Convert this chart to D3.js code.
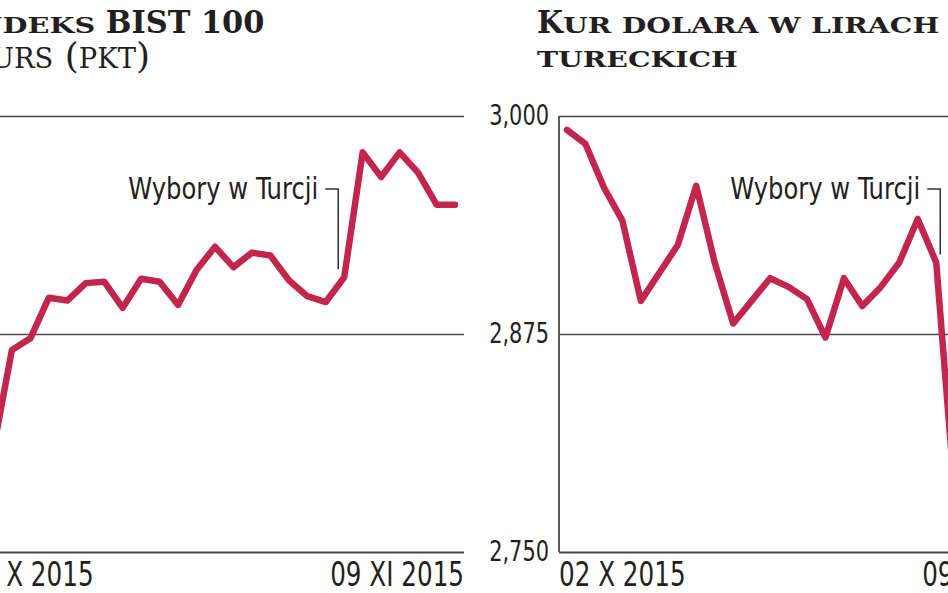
<!DOCTYPE html>
<html>
<head>
<meta charset="utf-8">
<script src="https://cdn.jsdelivr.net/npm/d3@7"></script>
<style>
  body { margin: 0; background: #fff; }
  svg { display: block; }
  .title { font-family: 'DejaVu Serif', serif; font-weight: bold; fill: #231f20; }
  .subtitle { font-family: 'DejaVu Serif', serif; font-weight: normal; fill: #231f20; }
  .label { font-family: 'Liberation Sans Narrow', 'DejaVu Sans Condensed', sans-serif; fill: #231f20; }
</style>
</head>
<body>
<div id="chart"></div>
<script>
// trading days shown on both charts
const dates = [
  '2015-10-02',
  '2015-10-05', '2015-10-06', '2015-10-07', '2015-10-08', '2015-10-09',
  '2015-10-12', '2015-10-13', '2015-10-14', '2015-10-15', '2015-10-16',
  '2015-10-19', '2015-10-20', '2015-10-21', '2015-10-22', '2015-10-23',
  '2015-10-26', '2015-10-27', '2015-10-28', '2015-10-29', '2015-10-30',
  '2015-11-02', '2015-11-03', '2015-11-04', '2015-11-05', '2015-11-06',
  '2015-11-09',
];

// BIST 100, points
const bistValues = [
  72900, 73550, 76950, 77350, 78750, 78650, 79250, 79300, 78400, 79400,
  79300, 78500, 79700, 80500, 79800, 80300, 80200, 79350, 78800, 78600,
  79450, 83750, 82900, 83750, 83050, 81950, 81950,
];

// USD/TRY
const usdTryValues = [
  2.992, 2.984, 2.959, 2.940, 2.894, 2.910, 2.926, 2.960, 2.916, 2.881,
  2.894, 2.907, 2.902, 2.895, 2.873, 2.907, 2.891, 2.902, 2.916, 2.941,
  2.916, 2.783, 2.790, 2.805, 2.845, 2.865, 2.880,
];

const bistTicks = [70000, 77500, 85000];
const usdTryTicks = [2.75, 2.875, 3.0];
const dateLabels = ['02 X 2015', '09 XI 2015'];
const electionDate = '2015-10-30';
const electionNote = 'Wybory w Turcji';

const pl = d3.formatLocale({ decimal: ',', thousands: '\u00a0', grouping: [3], currency: ['', ' zł'] });

const width = 948;
const height = 593;
const plotW = 497;
const plotTop = 116;
const plotBottom = 552;
const red = '#c2264f';
const titleFit = [0.95, 1.25]; // [capitals, small caps] width factors, the original face is a wide slab

const panels = [
  {
    title: ['Indeks BIST 100'],
    titleSize: 32,
    titleX: -38,
    titleY: [33],
    subtitle: 'Kurs (pkt)',
    values: bistValues,
    ticks: bistTicks,
    format: pl.format(',.0f'),
    left: -33,
    noteDx: -6,
  },
  {
    title: ['Kur dolara w lirach', 'tureckich'],
    titleSize: 31.5,
    titleX: 537,
    titleY: [33, 67],
    values: usdTryValues,
    ticks: usdTryTicks,
    format: pl.format(',.3f'),
    left: 559,
    noteDx: 4,
  },
];

// small caps by hand: lowercase letters become smaller capitals
function smallCaps(text, str, size, ratio, fit) {
  const runs = [];
  for (const ch of str) {
    const small = ch !== ch.toUpperCase();
    const last = runs[runs.length - 1];
    if (last && last.small === small) last.t += ch;
    else runs.push({ small, t: ch });
  }
  const spans = text.selectAll('tspan')
    .data(runs)
    .join('tspan')
    .style('font-size', d => (d.small ? size * ratio : size) + 'px')
    .text(d => d.t.toUpperCase());

  if (fit) {
    spans.each(function(d) {
      const w = this.getComputedTextLength();
      d3.select(this)
        .attr('textLength', w * (d.small ? fit[1] : fit[0]))
        .attr('lengthAdjust', 'spacingAndGlyphs');
    });
  }
}

// no narrow sans installed, squeeze the condensed one a bit more
function squeeze(sel, k) {
  sel.each(function() {
    const w = this.getComputedTextLength();
    d3.select(this)
      .attr('textLength', w * k)
      .attr('lengthAdjust', 'spacingAndGlyphs');
  });
}

const svg = d3.select('#chart')
  .append('svg')
  .attr('width', width)
  .attr('height', height);

panels.forEach(p => {
  const g = svg.append('g').attr('class', 'panel');

  const x = d3.scalePoint()
    .domain(dates)
    .range([p.left + 8, p.left + plotW - 9]);

  const y = d3.scaleLinear()
    .domain(d3.extent(p.ticks))
    .range([plotBottom, plotTop]);

  // titles
  p.title.forEach((t, i) => {
    g.append('text')
      .attr('class', 'title')
      .attr('x', p.titleX)
      .attr('y', p.titleY[i])
      .call(smallCaps, t, p.titleSize, 0.72, titleFit);
  });

  if (p.subtitle) {
    g.append('text')
      .attr('class', 'subtitle')
      .attr('x', p.titleX + 2)
      .attr('y', 68)
      .call(smallCaps, p.subtitle, 36, 0.76);
  }

  // grid + y labels
  const axis = g.append('g')
    .attr('class', 'axis y')
    .attr('transform', `translate(${p.left},0)`)
    .call(d3.axisLeft(y).tickValues(p.ticks).tickSize(-plotW).tickPadding(10).tickFormat(p.format));

  axis.select('.domain').remove();
  axis.selectAll('.tick line')
    .attr('stroke', '#4a4a4a')
    .attr('stroke-width', d => (d === p.ticks[0] ? 2.2 : 1.5));
  axis.selectAll('.tick text')
    .attr('class', 'label')
    .attr('fill', '#231f20')
    .style('font-size', '28px')
    .call(squeeze, 0.83);

  g.append('line')
    .attr('x1', p.left).attr('x2', p.left)
    .attr('y1', plotTop).attr('y2', plotBottom)
    .attr('stroke', '#4a4a4a')
    .attr('stroke-width', 1.8);

  // date labels
  g.selectAll('text.date')
    .data(dateLabels)
    .join('text')
    .attr('class', 'date label')
    .attr('x', (d, i) => (i === 0 ? p.left : p.left + plotW))
    .attr('y', 586)
    .attr('text-anchor', (d, i) => (i === 0 ? 'start' : 'end'))
    .style('font-size', '33px')
    .text(d => d)
    .call(squeeze, 0.83);

  // annotation
  const i = dates.indexOf(electionDate);
  const xa = x(electionDate) + p.noteDx;
  g.append('path')
    .attr('d', `M${xa - 13},189H${xa}V${y(p.values[i]) - 8}`)
    .attr('fill', 'none')
    .attr('stroke', '#333')
    .attr('stroke-width', 1.5);

  g.append('text')
    .attr('class', 'label')
    .attr('x', xa - 20)
    .attr('y', 199)
    .attr('text-anchor', 'end')
    .style('font-size', '31px')
    .text(electionNote)
    .call(squeeze, 0.87);

  // series
  const line = d3.line()
    .x((d, k) => x(dates[k]))
    .y(d => y(d));

  g.append('path')
    .datum(p.values)
    .attr('d', line)
    .attr('fill', 'none')
    .attr('stroke', red)
    .attr('stroke-width', 6.5)
    .attr('stroke-linejoin', 'round')
    .attr('stroke-linecap', 'round');
});
</script>
</body>
</html>
